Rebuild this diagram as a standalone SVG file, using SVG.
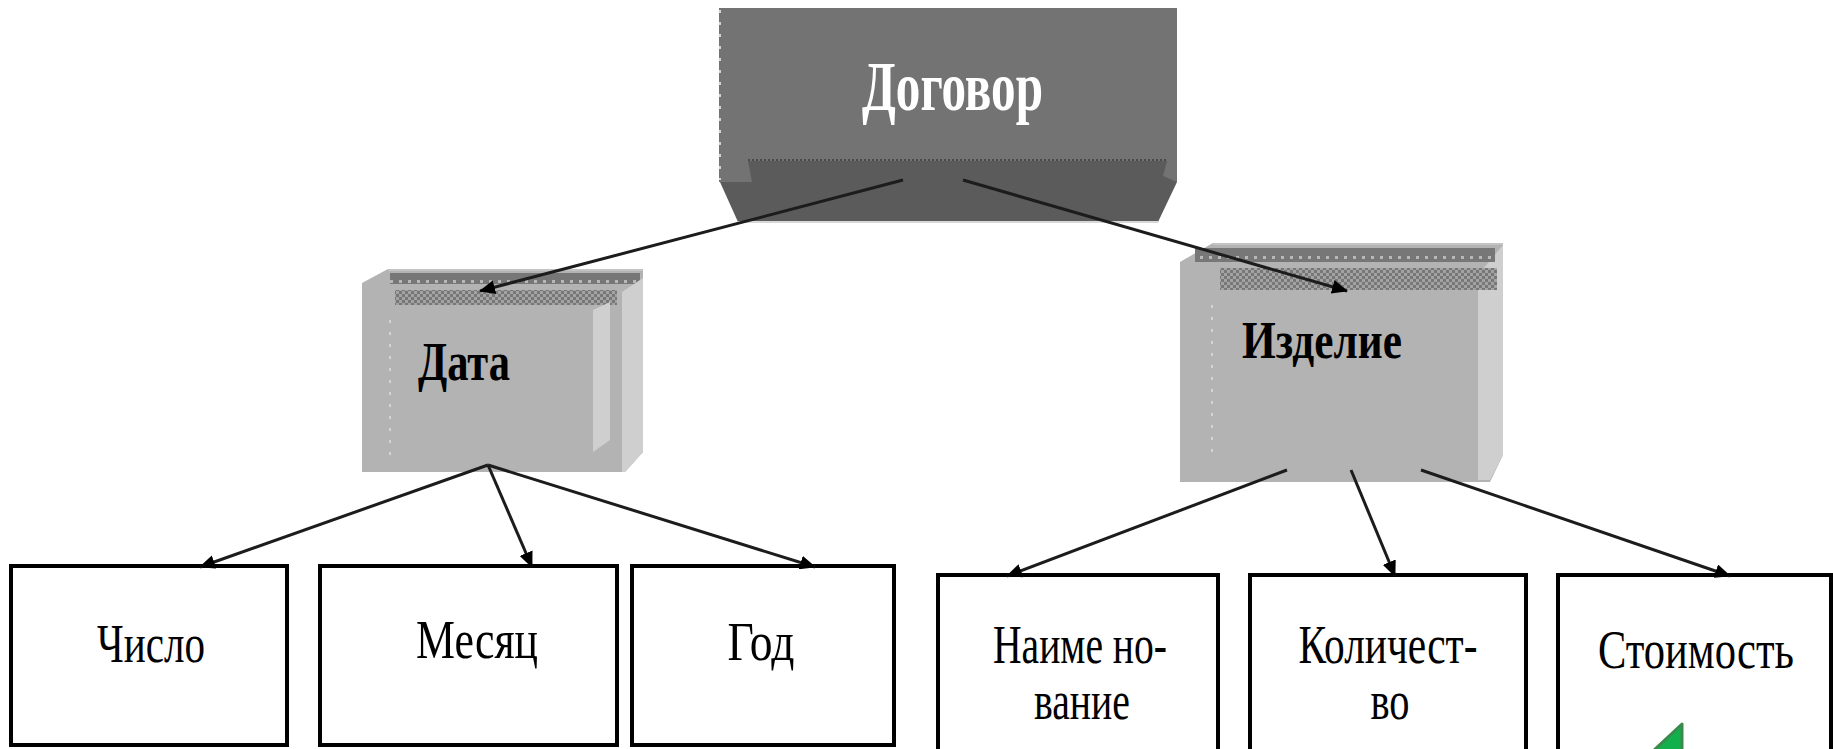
<svg xmlns="http://www.w3.org/2000/svg" width="1833" height="749" viewBox="0 0 1833 749">
  <style>
    .title { font-family: "Liberation Serif", "DejaVu Serif", serif; font-weight: bold; }
    .leaf { font-family: "Liberation Serif", "DejaVu Serif", serif; font-size: 54px; fill: #000; text-anchor: middle; }
    .box { fill: #fff; stroke: #000; stroke-width: 4; }
    .link { stroke: #1c1c1c; stroke-width: 3; fill: none; marker-end: url(#arrow); }
    .front { fill: #b3b3b3; }
    .side { fill: #cfcfcf; }
    .rim { stroke: #d4d4d4; stroke-width: 2; stroke-dasharray: 3 9; fill: none; }
  </style>
  <defs>
    <marker id="arrow" markerUnits="userSpaceOnUse" markerWidth="16" markerHeight="14" refX="15" refY="7" orient="auto">
      <path d="M0,0 L16,7 L0,14 Z" fill="#000"/>
    </marker>
    <!-- checkered band on the top faces of the 3D boxes -->
    <pattern id="stipple" width="6" height="6" patternUnits="userSpaceOnUse">
      <rect width="6" height="6" fill="#a3a3a3"/>
      <rect width="3" height="3" fill="#777"/>
      <rect x="3" y="3" width="3" height="3" fill="#777"/>
    </pattern>
    <!-- dashed rim row just below the top edge -->
    <pattern id="dashrow" width="9" height="12" patternUnits="userSpaceOnUse">
      <rect width="9" height="12" fill="#777"/>
      <rect x="3" y="4" width="3" height="3" fill="#b8b8b8"/>
    </pattern>
  </defs>

  <!-- root node -->
  <g id="node-dogovor">
    <rect x="719" y="8" width="458" height="174" fill="#737373"/>
    <path d="M748,161 H1167 L1163,176 L1177,182 L1158,222 H738 L720,182 L752,182 Z" fill="#5b5b5b"/>
    <line x1="748" y1="160" x2="1167" y2="160" stroke="#4a4a4a" stroke-width="2" stroke-dasharray="2 2"/>
    <line x1="720" y1="10" x2="720" y2="180" class="rim"/>
    <line x1="738" y1="222" x2="1158" y2="222" stroke="#d8d8d8" stroke-width="2"/>
    <text x="862" y="110" class="title" font-size="70" fill="#fff" textLength="181" lengthAdjust="spacingAndGlyphs">Договор</text>
  </g>

  <!-- second level -->
  <g id="node-data">
    <polygon points="362,283 388,269 643,269 643,452 625,472 362,472" class="front"/>
    <line x1="388" y1="270" x2="643" y2="270" stroke="#c4c4c4" stroke-width="2"/>
    <rect x="390" y="273" width="250" height="11" fill="url(#dashrow)"/>
    <rect x="395" y="290" width="222" height="15" fill="url(#stipple)"/>
    <polygon points="593,310 610,302 610,440 593,452" class="side"/>
    <polygon points="622,292 643,278 643,452 625,472 622,472" class="side"/>
    <line x1="390" y1="320" x2="390" y2="460" class="rim"/>
    <text x="418" y="380" class="title" font-size="54" fill="#000" textLength="92" lengthAdjust="spacingAndGlyphs">Дата</text>
  </g>

  <g id="node-izdelie">
    <polygon points="1180,262 1213,243 1503,243 1503,455 1490,482 1180,482" class="front"/>
    <polygon points="1478,275 1503,245 1503,455 1490,480 1478,480" class="side"/>
    <line x1="1213" y1="244" x2="1503" y2="244" stroke="#c4c4c4" stroke-width="2"/>
    <rect x="1195" y="248" width="300" height="14" fill="url(#dashrow)"/>
    <rect x="1220" y="268" width="277" height="22" fill="url(#stipple)"/>
    <line x1="1212" y1="305" x2="1212" y2="455" class="rim"/>
    <text x="1242" y="358" class="title" font-size="52" fill="#000" textLength="160" lengthAdjust="spacingAndGlyphs">Изделие</text>
  </g>

  <!-- leaves under Дата -->
  <g id="node-chislo">
    <rect x="11" y="566" width="276" height="179" class="box"/>
    <text x="151" y="662" class="leaf" textLength="108" lengthAdjust="spacingAndGlyphs">Число</text>
  </g>
  <g id="node-mesyats">
    <rect x="320" y="566" width="297" height="179" class="box"/>
    <text x="477" y="658" class="leaf" textLength="122" lengthAdjust="spacingAndGlyphs">Месяц</text>
  </g>
  <g id="node-god">
    <rect x="632" y="566" width="262" height="179" class="box"/>
    <text x="761" y="660" class="leaf" textLength="67" lengthAdjust="spacingAndGlyphs">Год</text>
  </g>

  <!-- leaves under Изделие -->
  <g id="node-naimenovanie">
    <rect x="938" y="575" width="280" height="200" class="box"/>
    <text x="1080" y="663" class="leaf" textLength="174" lengthAdjust="spacingAndGlyphs">Наиме но-</text>
    <text x="1082" y="719" class="leaf" textLength="96" lengthAdjust="spacingAndGlyphs">вание</text>
  </g>
  <g id="node-kolichestvo">
    <rect x="1250" y="575" width="276" height="200" class="box"/>
    <text x="1388" y="663" class="leaf" textLength="179" lengthAdjust="spacingAndGlyphs">Количест-</text>
    <text x="1390" y="719" class="leaf" textLength="39" lengthAdjust="spacingAndGlyphs">во</text>
  </g>
  <g id="node-stoimost">
    <rect x="1558" y="575" width="273" height="200" class="box"/>
    <text x="1696" y="668" class="leaf" textLength="196" lengthAdjust="spacingAndGlyphs">Стоимость</text>
    <polygon points="1682,724 1682,752 1652,752" fill="#12b04c" stroke="#3a8a4c" stroke-width="3" stroke-linejoin="round"/>
  </g>

  <!-- connectors -->
  <g id="connectors">
    <line class="link" x1="903" y1="180" x2="480" y2="291"/>
    <line class="link" x1="963" y1="180" x2="1347" y2="291"/>
    <line class="link" x1="488" y1="465" x2="200" y2="567"/>
    <line class="link" x1="488" y1="465" x2="532" y2="567"/>
    <line class="link" x1="488" y1="465" x2="815" y2="567"/>
    <line class="link" x1="1287" y1="470" x2="1007" y2="576"/>
    <line class="link" x1="1351" y1="470" x2="1395" y2="576"/>
    <line class="link" x1="1421" y1="470" x2="1730" y2="576"/>
  </g>
</svg>
